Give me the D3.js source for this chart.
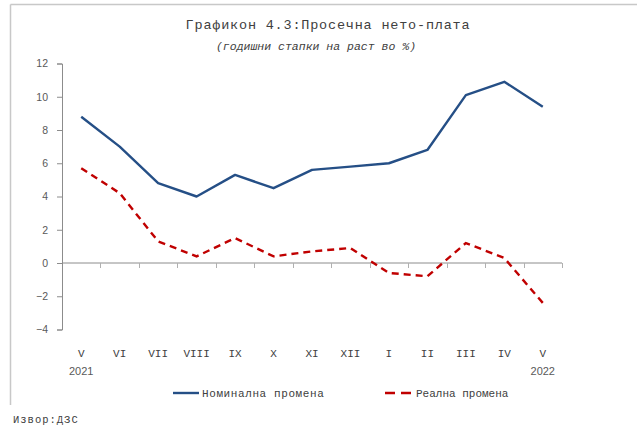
<!DOCTYPE html>
<html>
<head>
<meta charset="utf-8">
<script src="https://cdn.jsdelivr.net/npm/d3@7"></script>
<style>
  body { margin: 0; background: #fff; }
  svg { display: block; }
  .mono { font-family: "Liberation Mono", "DejaVu Sans Mono", monospace; fill: #404040; }
  .sans { font-family: "Liberation Sans", Arial, sans-serif; fill: #595959; }
</style>
</head>
<body>
<div id="chart"></div>
<script>
// data
var months = ["V", "VI", "VII", "VIII", "IX", "X", "XI", "XII", "I", "II", "III", "IV", "V"];
var years = ["2021", "", "", "", "", "", "", "", "", "", "", "", "2022"];
var nominal = [8.8, 7.0, 4.8, 4.0, 5.3, 4.5, 5.6, 5.8, 6.0, 6.8, 10.1, 10.9, 9.4];
var real = [5.7, 4.2, 1.3, 0.4, 1.5, 0.4, 0.7, 0.9, -0.6, -0.8, 1.2, 0.3, -2.4];
var yTicks = [-4, -2, 0, 2, 4, 6, 8, 10, 12];
var seriesNames = ["Номинална промена", "Реална промена"];

var W = 637, H = 425;
var plotLeft = 62, plotRight = 562, plotTop = 63.5, plotBottom = 329.5;

var svg = d3.select("#chart").append("svg")
    .attr("width", W)
    .attr("height", H);

// frame lines
svg.append("line").attr("x1", 10.5).attr("x2", W).attr("y1", 4.5).attr("y2", 4.5)
    .attr("stroke", "#c8c8c8").attr("stroke-width", 1.5);
svg.append("line").attr("x1", 10.5).attr("x2", 10.5).attr("y1", 4.5).attr("y2", 405)
    .attr("stroke", "#c8c8c8").attr("stroke-width", 1.5);

// title
svg.append("text").attr("class", "mono")
    .attr("x", 328).attr("y", 29)
    .attr("text-anchor", "middle")
    .style("font-size", "13.5px")
    .style("letter-spacing", "0.8px")
    .text("Графикон 4.3:Просечна нето-плата");
svg.append("text").attr("class", "mono")
    .attr("x", 316).attr("y", 50)
    .attr("text-anchor", "middle")
    .style("font-size", "11.5px")
    .style("font-style", "italic")
    .text("(годишни стапки на раст во %)");

var x = d3.scaleBand().domain(d3.range(months.length)).range([plotLeft, plotRight]);
var y = d3.scaleLinear().domain([-4, 12]).range([plotBottom, plotTop]);

// y axis
var yAxis = svg.append("g")
    .attr("transform", "translate(" + plotLeft + ",0)")
    .call(d3.axisLeft(y).tickValues(yTicks).tickSize(5).tickPadding(9).tickFormat(function(d) {
        return d < 0 ? "\u2212" + Math.abs(d) : d;
    }));
yAxis.select(".domain").attr("stroke", "#8c8c8c");
yAxis.selectAll(".tick line").attr("stroke", "#8c8c8c");
yAxis.selectAll(".tick text").attr("class", "sans").style("font-size", "10.5px").attr("fill", null);

// x axis at zero
var xg = svg.append("g");
xg.append("line")
    .attr("x1", plotLeft).attr("x2", plotRight)
    .attr("y1", y(0)).attr("y2", y(0))
    .attr("stroke", "#8c8c8c");
var bounds = d3.range(1, months.length + 1);
xg.selectAll(".xt").data(bounds).enter().append("line")
    .attr("x1", function(i) { return Math.round(x.step() * i + plotLeft) + 0.5; })
    .attr("x2", function(i) { return Math.round(x.step() * i + plotLeft) + 0.5; })
    .attr("y1", y(0)).attr("y2", y(0) + 5)
    .attr("stroke", "#b0b0b0");

// category labels
svg.selectAll(".mlab").data(months).enter().append("text")
    .attr("class", "mono")
    .attr("x", function(d, i) { return x(i) + x.bandwidth() / 2; })
    .attr("y", 357)
    .attr("text-anchor", "middle")
    .style("font-size", "11px")
    .text(function(d) { return d; });
svg.selectAll(".ylab").data(years).enter().append("text")
    .attr("class", "sans")
    .attr("x", function(d, i) { return x(i) + x.bandwidth() / 2; })
    .attr("y", 375)
    .attr("text-anchor", "middle")
    .style("font-size", "11px")
    .text(function(d) { return d; });

// lines
var line = d3.line()
    .x(function(d, i) { return x(i) + x.bandwidth() / 2; })
    .y(function(d) { return y(d); });

svg.append("path")
    .datum(nominal)
    .attr("fill", "none")
    .attr("stroke", "#254f86")
    .attr("stroke-width", 2.4)
    .attr("stroke-linejoin", "round")
    .attr("d", line);

svg.append("path")
    .datum(real)
    .attr("fill", "none")
    .attr("stroke", "#c00000")
    .attr("stroke-width", 2.4)
    .attr("stroke-dasharray", "7,5")
    .attr("d", line);

// legend
var lg = svg.append("g");
lg.append("line").attr("x1", 173).attr("x2", 199).attr("y1", 393).attr("y2", 393)
    .attr("stroke", "#254f86").attr("stroke-width", 2.4);
lg.append("text").attr("class", "mono").attr("x", 202).attr("y", 397)
    .style("font-size", "11px").style("letter-spacing", "0.6px").text(seriesNames[0]);
lg.append("line").attr("x1", 385).attr("x2", 411).attr("y1", 393).attr("y2", 393)
    .attr("stroke", "#c00000").attr("stroke-width", 2.4).attr("stroke-dasharray", "10,6");
lg.append("text").attr("class", "mono").attr("x", 416).attr("y", 397)
    .style("font-size", "11px").text(seriesNames[1]);

// source
svg.append("text").attr("class", "mono")
    .attr("x", 13).attr("y", 423)
    .style("font-size", "10.5px")
    .style("letter-spacing", "1px")
    .text("Извор:ДЗС");
</script>
</body>
</html>
